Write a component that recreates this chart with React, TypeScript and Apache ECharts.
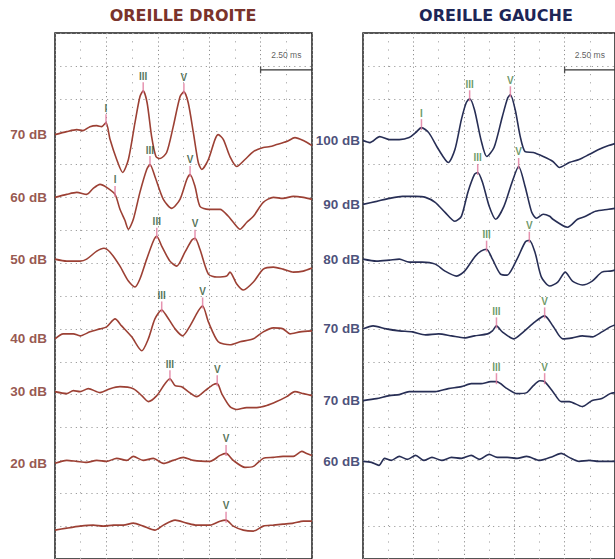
import React, { useEffect, useRef } from "react";
import * as echarts from "echarts";

type Pt = [number, number];
type Peak = [number, string, number];

// Sweep and scale
const SWEEP_MS = 12.5;
const SCALE_BAR_MS = 2.5;
const UV_PER_ROW = 0.33;
const ROWS = 16;

// ---------- OREILLE DROITE ----------
const droiteLevels = ["70 dB", "60 dB", "50 dB", "40 dB", "30 dB", "20 dB", ""];
const droiteOffsets = [4.26, 3.63, 3.01, 2.21, 1.68, 0.96, 0.29];

const droite70: Pt[] = [[0,0],[0.57,0.03],[1.06,0.05],[1.36,0.04],[1.70,0.08],[2.03,0.09],[2.27,0.08],[2.48,0.12],[2.68,-0.05],[3.00,-0.25],[3.29,-0.38],[3.57,-0.25],[3.89,0.12],[4.13,0.38],[4.29,0.44],[4.48,0.32],[4.70,-0.02],[4.91,-0.22],[5.11,-0.24],[5.43,-0.18],[5.75,0.08],[6.08,0.38],[6.27,0.43],[6.48,0.32],[6.73,0.02],[6.97,-0.28],[7.14,-0.35],[7.46,-0.25],[7.78,-0.05],[7.94,0],[8.19,-0.05],[8.51,-0.22],[8.84,-0.32],[9.24,-0.25],[9.65,-0.17],[10.13,-0.13],[10.46,-0.12],[10.78,-0.10],[11.27,-0.07],[11.67,-0.03],[12.08,-0.06],[12.5,-0.11]];
const droite60: Pt[] = [[0,0],[0.57,0.03],[1.06,0.05],[1.54,0.03],[1.86,0.09],[2.19,0.13],[2.51,0.10],[2.92,0.03],[3.16,-0.12],[3.40,-0.23],[3.57,-0.32],[3.81,-0.22],[4.13,0.05],[4.46,0.28],[4.62,0.33],[4.86,0.21],[5.27,-0.02],[5.68,-0.11],[6.08,-0.02],[6.41,0.18],[6.57,0.23],[6.81,0.11],[7.05,-0.09],[7.46,-0.12],[8.03,-0.12],[8.43,-0.19],[8.67,-0.25],[9.00,-0.32],[9.33,-0.25],[9.65,-0.19],[10.13,-0.05],[10.62,0],[11.09,-0.01],[11.59,0.01],[12.08,0],[12.5,-0.02]];
const droite50: Pt[] = [[0,0],[0.57,-0.02],[1.22,-0.02],[1.54,0],[2.03,0.08],[2.38,0.11],[2.68,0.07],[3.16,-0.07],[3.57,-0.22],[3.89,-0.28],[4.13,-0.20],[4.46,0],[4.78,0.18],[4.95,0.23],[5.19,0.13],[5.59,-0.02],[5.92,-0.07],[6.32,0.07],[6.65,0.19],[6.81,0.21],[7.05,0.10],[7.46,-0.15],[7.87,-0.18],[8.35,-0.17],[8.51,-0.13],[8.84,-0.25],[9.16,-0.31],[9.65,-0.23],[10.13,-0.10],[10.62,-0.08],[11.09,-0.10],[11.59,-0.13],[12.08,-0.12],[12.5,-0.09]];
const droite40: Pt[] = [[0,0],[0.40,0.05],[0.89,0.05],[1.22,0.03],[1.70,0.07],[2.19,0.10],[2.51,0.12],[2.92,0.20],[3.24,0.13],[3.73,0.02],[4.22,-0.12],[4.54,0],[4.86,0.20],[5.19,0.29],[5.43,0.23],[5.84,0.10],[6.21,0.03],[6.57,0.13],[6.97,0.28],[7.18,0.33],[7.46,0.17],[7.94,-0.03],[8.51,-0.06],[9.00,-0.03],[9.65,0],[10.13,0.07],[10.62,0.11],[11.09,0.10],[11.43,0.05],[11.92,0.07],[12.5,0.08]];
const droite30: Pt[] = [[0,0],[0.57,-0.02],[0.89,0.01],[1.22,0],[1.62,0.03],[2.19,-0.01],[2.68,0.03],[3.16,0.05],[3.81,0.03],[4.22,-0.04],[4.54,-0.10],[4.95,-0.04],[5.35,0.08],[5.59,0.13],[5.84,0.06],[6.16,0.05],[6.48,0],[6.89,-0.05],[7.30,0.01],[7.70,0.07],[7.89,0.08],[8.11,-0.02],[8.51,-0.15],[8.84,-0.18],[9.32,-0.16],[9.81,-0.16],[10.30,-0.14],[10.78,-0.10],[11.27,-0.05],[11.67,0],[12.08,-0.02],[12.5,-0.04]];
const droite20: Pt[] = [[0,0],[0.57,0.03],[1.06,0.02],[1.54,0.01],[2.03,0.03],[2.51,0.02],[3.00,0.05],[3.49,0.03],[3.81,0.07],[4.29,0.03],[4.78,0.05],[5.27,0],[5.75,0.03],[6.24,0.06],[6.73,0.03],[7.54,0.02],[8.03,0.08],[8.32,0.10],[8.67,0.03],[9.24,-0.04],[9.65,-0.03],[10.13,0.05],[10.62,0.06],[11.09,0.07],[11.59,0.07],[12.00,0.12],[12.24,0.10],[12.5,0.08]];
const droiteSeuil: Pt[] = [[0,0],[0.57,0.02],[1.22,0.04],[1.86,0.05],[2.35,0.04],[2.84,0.05],[3.32,0.05],[3.81,0.07],[4.29,0.04],[4.86,0],[5.27,0.05],[5.84,0.10],[6.41,0.07],[6.89,0.05],[7.54,0.05],[8.03,0.09],[8.32,0.10],[8.67,0.04],[9.16,0],[9.65,-0.01],[10.13,0.04],[10.62,0.05],[11.09,0.06],[11.59,0.07],[12.08,0.09],[12.5,0.09]];
const droiteTraces = [droite70, droite60, droite50, droite40, droite30, droite20, droiteSeuil];

// [trace index, wave, latency ms]
const droitePeaks: Peak[] = [
  [0, "I", 2.48], [0, "III", 4.29], [0, "V", 6.27],
  [1, "I", 2.92], [1, "III", 4.62], [1, "V", 6.57],
  [2, "III", 4.95], [2, "V", 6.81],
  [3, "III", 5.19], [3, "V", 7.18],
  [4, "III", 5.59], [4, "V", 7.89],
  [5, "V", 8.32],
  [6, "V", 8.32],
];

// ---------- OREILLE GAUCHE ----------
const gaucheLevels = ["100 dB", "90 dB", "80 dB", "70 dB", "70 dB", "60 dB"];
const gaucheOffsets = [4.20, 3.56, 3.01, 2.31, 1.59, 0.98];

const gauche100: Pt[] = [[0,0],[0.34,-0.02],[0.83,0.04],[1.31,0.01],[1.80,0.01],[2.29,0.03],[2.61,0.08],[2.90,0.13],[3.26,0.08],[3.75,-0.09],[4.23,-0.22],[4.56,-0.09],[4.88,0.21],[5.12,0.38],[5.29,0.42],[5.53,0.31],[5.85,0.01],[6.14,-0.16],[6.50,-0.07],[6.91,0.24],[7.18,0.43],[7.31,0.46],[7.55,0.31],[7.80,0.04],[8.04,-0.11],[8.45,-0.12],[8.94,-0.16],[9.42,-0.21],[9.74,-0.27],[10.23,-0.22],[10.72,-0.19],[11.21,-0.14],[11.69,-0.09],[12.18,-0.05],[12.5,-0.03]];
const gauche90: Pt[] = [[0,0],[0.67,0.03],[1.31,0.06],[1.96,0.08],[2.61,0.08],[3.10,0.07],[3.58,0.02],[4.07,-0.08],[4.56,-0.17],[4.88,-0.12],[5.20,0.12],[5.53,0.30],[5.69,0.32],[5.93,0.22],[6.26,-0.02],[6.58,-0.15],[6.99,-0.02],[7.39,0.22],[7.72,0.38],[8.04,0.18],[8.37,-0.08],[8.61,-0.14],[8.94,-0.10],[9.26,-0.12],[9.42,-0.15],[10.15,-0.23],[10.64,-0.15],[11.04,-0.12],[11.53,-0.07],[12.18,-0.05],[12.5,-0.04]];
const gauche80: Pt[] = [[0,0],[0.67,-0.02],[1.31,-0.01],[1.80,0],[2.29,-0.03],[2.93,-0.03],[3.58,-0.05],[4.07,-0.12],[4.64,-0.17],[5.04,-0.12],[5.53,0.02],[5.85,0.08],[6.13,0.10],[6.42,0],[6.82,-0.15],[7.15,-0.16],[7.64,0],[8.04,0.17],[8.25,0.19],[8.53,0.07],[8.85,-0.18],[9.26,-0.27],[9.66,-0.23],[10.03,-0.13],[10.39,-0.22],[10.88,-0.26],[11.37,-0.22],[11.85,-0.13],[12.26,-0.12],[12.5,-0.11]];
const gauche70a: Pt[] = [[0,0],[0.50,0.03],[1.15,0],[1.80,-0.02],[2.45,-0.03],[3.10,-0.06],[3.75,-0.05],[4.39,-0.07],[5.04,-0.09],[5.53,-0.07],[6.18,-0.05],[6.42,-0.02],[6.62,0.03],[6.91,-0.03],[7.48,-0.10],[7.96,-0.03],[8.53,0.07],[9.01,0.13],[9.42,0.03],[9.91,-0.10],[10.39,-0.09],[10.88,-0.07],[11.37,-0.08],[11.85,-0.03],[12.26,0.02],[12.5,0.04]];
const gauche70b: Pt[] = [[0,0],[0.67,0.02],[1.31,0.05],[1.80,0.06],[2.29,0.09],[2.93,0.09],[3.58,0.09],[4.23,0.12],[4.88,0.14],[5.37,0.17],[5.85,0.17],[6.34,0.19],[6.62,0.19],[7.15,0.12],[7.64,0.07],[8.12,0.08],[8.45,0.15],[8.77,0.20],[9.01,0.19],[9.42,0.09],[9.83,-0.01],[10.23,-0.01],[10.88,-0.06],[11.37,0],[11.85,0.02],[12.26,0.07],[12.5,0.08]];
const gauche60: Pt[] = [[0,0],[0.42,-0.01],[0.79,-0.04],[1.07,0.03],[1.40,0.01],[1.80,0.05],[2.20,0.02],[2.61,0.06],[3.02,0.01],[3.42,0.04],[3.91,0.01],[4.39,0.04],[4.88,0.03],[5.37,0.06],[5.77,0.02],[6.26,0.07],[6.66,0.04],[7.15,0.04],[7.64,0.03],[8.12,0.05],[8.77,0.01],[9.42,0.05],[9.83,0.08],[10.23,0.04],[10.72,0],[11.21,0.01],[11.69,0],[12.26,0],[12.5,0]];
const gaucheTraces = [gauche100, gauche90, gauche80, gauche70a, gauche70b, gauche60];

const gauchePeaks: Peak[] = [
  [0, "I", 2.90], [0, "III", 5.29], [0, "V", 7.31],
  [1, "III", 5.69], [1, "V", 7.72],
  [2, "III", 6.13], [2, "V", 8.25],
  [3, "III", 6.62], [3, "V", 9.01],
  [4, "III", 6.62], [4, "V", 9.01],
];

// Height (µV on the stacked axis) of the time-scale bar
const SCALE_BAR_LEVEL = 4.91;

const SANS = "'Liberation Sans', Arial, sans-serif";

function valueAt(trace: Pt[], t: number): number {
  for (let i = 1; i < trace.length; i++) {
    const [t0, v0] = trace[i - 1];
    const [t1, v1] = trace[i];
    if (t >= t0 && t <= t1) {
      return t1 === t0 ? v1 : v0 + ((v1 - v0) * (t - t0)) / (t1 - t0);
    }
  }
  return trace[trace.length - 1][1];
}

interface Panel {
  title: string;
  titleX: number;
  titleColor: string;
  traces: Pt[][];
  offsets: number[];
  levels: string[];
  peaks: Peak[];
  traceColor: string;
  levelColor: string;
  waveColor: string;
  levelGap: number;
}

const panels: Panel[] = [
  {
    title: "OREILLE DROITE", titleX: 183, titleColor: "#7a332b",
    traces: droiteTraces, offsets: droiteOffsets, levels: droiteLevels, peaks: droitePeaks,
    traceColor: "#9c4034", levelColor: "#7c2c22", waveColor: "#2b5230", levelGap: 8,
  },
  {
    title: "OREILLE GAUCHE", titleX: 496, titleColor: "#1d2556",
    traces: gaucheTraces, offsets: gaucheOffsets, levels: gaucheLevels, peaks: gauchePeaks,
    traceColor: "#272e55", levelColor: "#1a2358", waveColor: "#4a8042", levelGap: 3,
  },
];

const gridBoxes = [
  { left: 55, top: 33, width: 257, height: 528 },
  { left: 363, top: 33, width: 257, height: 528 },
];

function buildOption(): echarts.EChartsOption {
  const series: any[] = [];

  panels.forEach((p, g) => {
    p.traces.forEach((trace, k) => {
      series.push({
        type: "line",
        xAxisIndex: g,
        yAxisIndex: g,
        silent: true,
        showSymbol: false,
        smooth: 0.25,
        z: 3,
        lineStyle: { color: p.traceColor, width: 1.6 },
        data: trace.map(([t, v]) => [t, p.offsets[k] + v]),
      });
    });

    // stimulus level labels at the start of each trace
    series.push({
      type: "scatter",
      xAxisIndex: g,
      yAxisIndex: g,
      silent: true,
      clip: false,
      symbolSize: 0,
      label: {
        show: true,
        position: "left",
        distance: p.levelGap,
        color: p.levelColor,
        fontFamily: SANS,
        fontSize: 13.5,
        fontWeight: "bold",
        formatter: "{b}",
      },
      data: p.levels
        .map((lv, k) => ({ name: lv, value: [0, p.offsets[k] + p.traces[k][0][1]] }))
        .filter((d) => d.name !== ""),
    });

    // wave markers I, III, V
    series.push({
      type: "scatter",
      xAxisIndex: g,
      yAxisIndex: g,
      silent: true,
      z: 4,
      symbol: "rect",
      symbolSize: [1.5, 11],
      symbolOffset: [0, -3],
      itemStyle: { color: "#e0789c" },
      label: {
        show: true,
        position: "top",
        distance: 1,
        formatter: "{b}",
        color: p.waveColor,
        fontFamily: SANS,
        fontSize: 10,
        fontWeight: "bold",
      },
      data: p.peaks.map(([k, wave, t]) => ({
        name: wave,
        value: [t, p.offsets[k] + valueAt(p.traces[k], t)],
      })),
    });

    // time-scale bar
    const barStart = SWEEP_MS - SCALE_BAR_MS;
    series.push({
      type: "line",
      xAxisIndex: g,
      yAxisIndex: g,
      silent: true,
      showSymbol: false,
      lineStyle: { color: "#333", width: 1.3 },
      data: [
        [barStart, SCALE_BAR_LEVEL],
        [SWEEP_MS, SCALE_BAR_LEVEL],
      ],
    });
    series.push({
      type: "scatter",
      xAxisIndex: g,
      yAxisIndex: g,
      silent: true,
      symbol: "rect",
      symbolSize: [1.3, 7],
      itemStyle: { color: "#333" },
      data: [[barStart, SCALE_BAR_LEVEL]],
    });
    series.push({
      type: "scatter",
      xAxisIndex: g,
      yAxisIndex: g,
      silent: true,
      clip: false,
      symbolSize: 0,
      label: {
        show: true,
        position: "top",
        distance: 10,
        color: "#333",
        fontFamily: SANS,
        fontSize: 8.5,
        formatter: `${SCALE_BAR_MS.toFixed(2)} ms`,
      },
      data: [[barStart + SCALE_BAR_MS / 2, SCALE_BAR_LEVEL]],
    });
  });

  return {
    animation: false,
    backgroundColor: "#ffffff",
    grid: gridBoxes.map((b) => ({
      ...b,
      show: true,
      backgroundColor: "#ffffff",
      borderColor: "#1c1c1c",
      borderWidth: 1.5,
      containLabel: false,
    })),
    xAxis: gridBoxes.map((_, g) => ({
      type: "value",
      gridIndex: g,
      min: 0,
      max: SWEEP_MS,
      interval: SCALE_BAR_MS,
      axisLine: { show: false },
      axisTick: { show: false },
      axisLabel: { show: false },
      minorTick: { show: false, splitNumber: 2 },
      splitLine: { show: true, lineStyle: { color: "#8f8f8f", width: 1, type: [1.2, 3] } },
      minorSplitLine: { show: true, lineStyle: { color: "#a8a8a8", width: 1, type: [1.2, 7] } },
    })),
    yAxis: gridBoxes.map((_, g) => ({
      type: "value",
      gridIndex: g,
      min: 0,
      max: UV_PER_ROW * ROWS,
      interval: UV_PER_ROW,
      axisLine: { show: false },
      axisTick: { show: false },
      axisLabel: { show: false },
      splitLine: { show: true, lineStyle: { color: "#9c9c9c", width: 1, type: [1.2, 4] } },
    })),
    graphic: panels.map((p) => ({
      type: "text",
      x: p.titleX,
      y: 15,
      silent: true,
      style: {
        text: p.title,
        fill: p.titleColor,
        font: "bold 16px 'DejaVu Sans', sans-serif",
        textAlign: "center",
        textVerticalAlign: "middle",
      },
    })),
    series,
  };
}

export default function App() {
  const ref = useRef<HTMLDivElement>(null);

  useEffect(() => {
    if (!ref.current) return;
    const chart = echarts.init(ref.current, undefined, { renderer: "svg" });
    chart.setOption(buildOption());
    return () => chart.dispose();
  }, []);

  return (
    <div
      ref={ref}
      style={{ position: "absolute", left: 0, top: 0, width: 615, height: 559, background: "#fff" }}
    />
  );
}
